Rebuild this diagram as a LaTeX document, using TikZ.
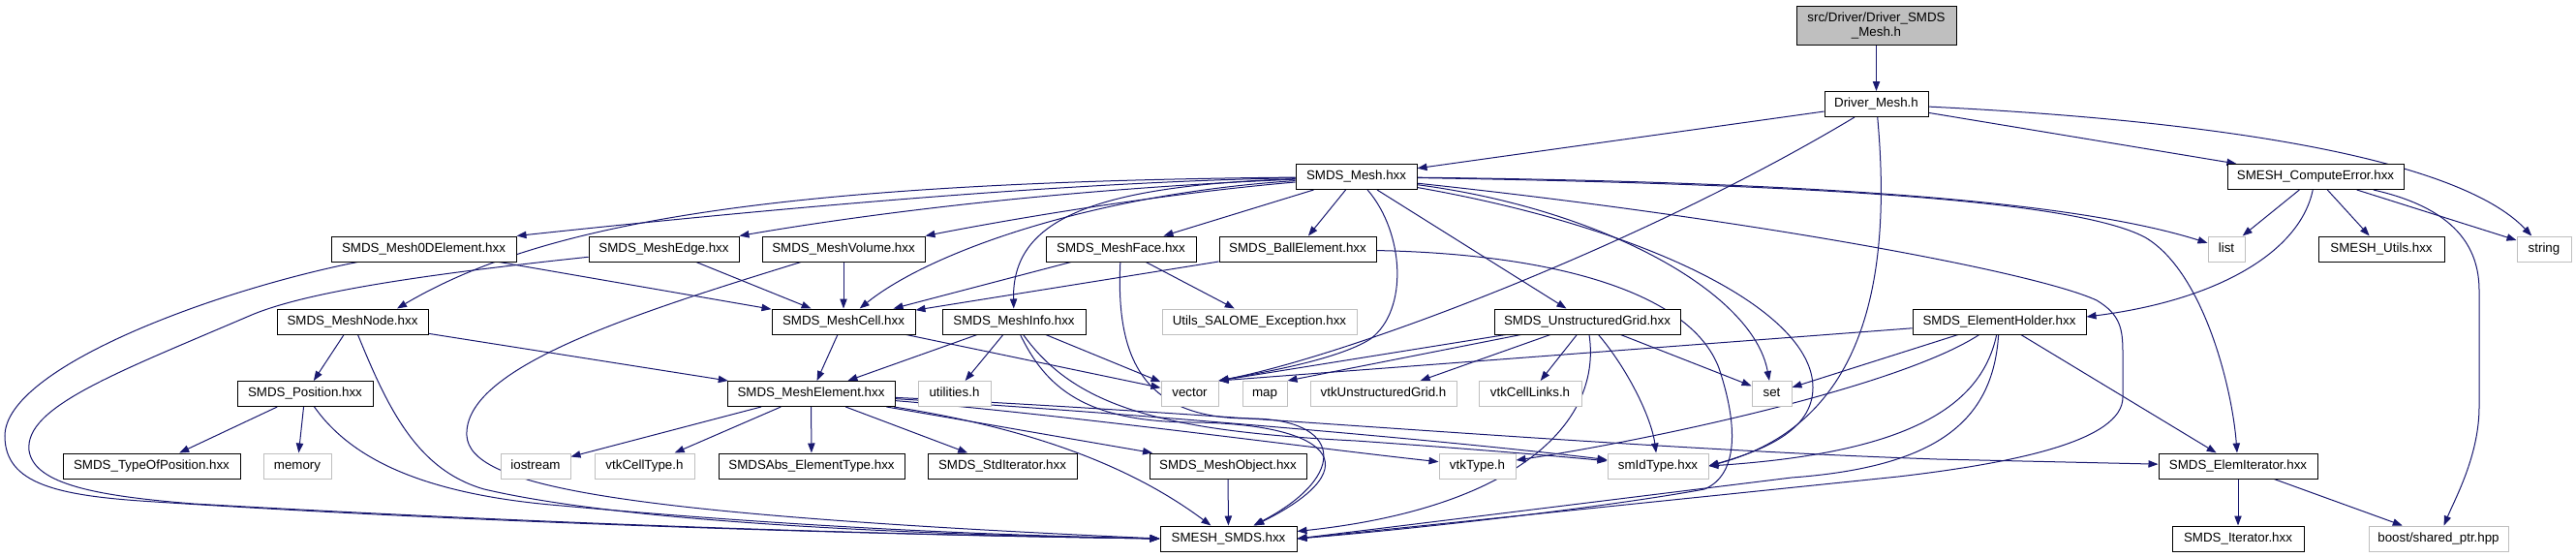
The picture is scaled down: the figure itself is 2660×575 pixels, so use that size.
\documentclass[tikz,border=0pt]{standalone}
\usepackage{fontspec}
\setmainfont{Liberation Sans}
\usetikzlibrary{arrows.meta}
\definecolor{edgec}{HTML}{191970}
\definecolor{extc}{HTML}{BFBFBF}
\definecolor{rootfill}{HTML}{BFBFBF}
\pgfdeclarelayer{bg}
\pgfsetlayers{bg,main}
\begin{document}
\begin{tikzpicture}[x=0.75pt,y=-0.75pt,
  font=\fontsize{10}{11.25}\selectfont,
  nb/.style={draw=black, fill=white, line width=0.75pt, inner sep=0pt, minimum height=19.5pt, minimum width=#1*0.75pt, text height=7.2pt, text depth=2.1pt},
  xb/.style={draw=extc, fill=white, line width=0.75pt, inner sep=0pt, minimum height=19.5pt, minimum width=#1*0.75pt, text height=7.2pt, text depth=2.1pt},
  rb/.style={draw=black, fill=rootfill, line width=0.75pt, inner sep=0pt, minimum height=30pt, minimum width=#1*0.75pt, align=center},
  edge/.style={draw=edgec, line width=0.75pt, -{Triangle[length=7.5pt,width=5.5pt]}}]
\useasboundingbox (0,0) rectangle (2660,575);
% nodes
\node[rb=165] (root) at (1937.5,26) {src/Driver/Driver\_SMDS\\\_Mesh.h};
\node[nb=107] (dmesh) at (1937.5,107.5) {Driver\_Mesh.h};
\node[nb=125] (smesh) at (1400.5,182.5) {SMDS\_Mesh.hxx};
\node[nb=182] (cerr) at (2391,182.5) {SMESH\_ComputeError.hxx};
\node[nb=191] (m0d) at (437.5,257) {SMDS\_Mesh0DElement.hxx};
\node[nb=155] (medge) at (685.5,257) {SMDS\_MeshEdge.hxx};
\node[nb=168] (mvol) at (871,257) {SMDS\_MeshVolume.hxx};
\node[nb=155] (mface) at (1157.5,257) {SMDS\_MeshFace.hxx};
\node[nb=162] (ball) at (1340,257) {SMDS\_BallElement.hxx};
\node[xb=38] (list) at (2299,257) {list};
\node[nb=130] (utils) at (2459,257) {SMESH\_Utils.hxx};
\node[xb=56] (string) at (2627,257) {string};
\node[nb=156] (mnode) at (364,332) {SMDS\_MeshNode.hxx};
\node[nb=148] (mcell) at (871,332) {SMDS\_MeshCell.hxx};
\node[nb=148] (minfo) at (1047,332) {SMDS\_MeshInfo.hxx};
\node[xb=201] (exc) at (1300.5,332) {Utils\_SALOME\_Exception.hxx};
\node[nb=192] (ugrid) at (1639,332) {SMDS\_UnstructuredGrid.hxx};
\node[nb=179] (holder) at (2064.5,332) {SMDS\_ElementHolder.hxx};
\node[nb=140] (pos) at (315,406.5) {SMDS\_Position.hxx};
\node[nb=173] (melem) at (837.5,406.5) {SMDS\_MeshElement.hxx};
\node[xb=75] (util) at (985.5,406.5) {utilities.h};
\node[xb=59] (vector) at (1228.5,406.5) {vector};
\node[xb=46] (map) at (1306,406.5) {map};
\node[xb=151] (vtkug) at (1428.5,406.5) {vtkUnstructuredGrid.h};
\node[xb=106] (vtkcl) at (1580,406.5) {vtkCellLinks.h};
\node[xb=41] (set) at (1829.5,406.5) {set};
\node[nb=183] (tpos) at (156.5,481) {SMDS\_TypeOfPosition.hxx};
\node[xb=70] (memory) at (307,481) {memory};
\node[xb=72] (iostream) at (553,481) {iostream};
\node[xb=103] (vtkct) at (665.5,481) {vtkCellType.h};
\node[nb=192] (eltype) at (838,481) {SMDSAbs\_ElementType.hxx};
\node[nb=154] (stdit) at (1035,481) {SMDS\_StdIterator.hxx};
\node[nb=162] (mobj) at (1268,481) {SMDS\_MeshObject.hxx};
\node[xb=79] (vtktype) at (1525.5,481) {vtkType.h};
\node[xb=104] (smid) at (1712,481) {smIdType.hxx};
\node[nb=164] (elit) at (2311,481) {SMDS\_ElemIterator.hxx};
\node[nb=141] (smds) at (1268.5,556) {SMESH\_SMDS.hxx};
\node[nb=136] (iter) at (2311,556) {SMDS\_Iterator.hxx};
\node[xb=144] (boost) at (2518,556) {boost/shared\_ptr.hpp};
\begin{pgfonlayer}{bg}
\fill[white] (0,0) rectangle (2660,575);
% root and Driver_Mesh
\draw[edge] (root) -- (dmesh);
\draw[edge] (dmesh) -- (smesh);
\draw[edge] (dmesh) -- (cerr);
\draw[edge] (dmesh) .. controls (2300,125) and (2540,165) .. (string);
\draw[edge] (dmesh) .. controls (1700,250) and (1400,365) .. (vector.north east);
\draw[edge] (dmesh) .. controls (1955,300) and (1920,440) .. (smid.east);
% SMDS_Mesh
\draw[edge] (smesh) .. controls (1100,188) and (800,215) .. (m0d.north east);
\draw[edge] (smesh) .. controls (800,188) and (560,230) .. ([xshift=34.5pt]mnode.north);
\draw[edge] (smesh) .. controls (1100,195) and (900,220) .. (medge.north east);
\draw[edge] (smesh) .. controls (1200,200) and (1050,225) .. (mvol.north east);
\draw[edge] (smesh) -- (mface);
\draw[edge] (smesh) -- (ball);
\draw[edge] (smesh) .. controls (1130,200) and (960,260) .. (mcell);
\draw[edge] (smesh) .. controls (1120,192) and (1045,230) .. (minfo);
\draw[edge] (smesh) -- (ugrid);
\draw[edge] (smesh) .. controls (1450,240) and (1455,320) .. (1415,350) .. controls (1380,372) and (1300,385) .. (vector.north east);
\draw[edge] (smesh) .. controls (1650,215) and (1810,300) .. (set);
\draw[edge] (smesh) .. controls (1700,235) and (1872,320) .. (1872,400) .. controls (1872,445) and (1820,465) .. (smid.east);
\draw[edge] (smesh) .. controls (1800,225) and (2100,280) .. (2165,310) .. controls (2190,325) and (2192,340) .. (2192,365) -- (2192,410) .. controls (2192,455) and (2080,478) .. (1960,492) -- (smds.east);
\draw[edge] (smesh) .. controls (1900,188) and (2150,210) .. (list);
\draw[edge] (smesh) .. controls (1850,190) and (2140,205) .. (2215,245) .. controls (2275,280) and (2305,400) .. (elit);
% SMESH_ComputeError
\draw[edge] (cerr) -- (list);
\draw[edge] (cerr) -- (utils);
\draw[edge] (cerr) -- (string);
\draw[edge] (cerr) .. controls (2375,260) and (2290,310) .. ([yshift=3.75pt]holder.east);
\draw[edge] (cerr) .. controls (2535,215) and (2560,255) .. (2560,300) -- (2560,420) .. controls (2560,470) and (2535,515) .. (boost);
% row 3
\draw[edge] (m0d) -- (mcell);
\draw[edge] (m0d) .. controls (220,300) and (5,380) .. (5,450) .. controls (5,500) and (60,512) .. (160,518) .. controls (500,540) and (900,552) .. (smds.west);
\draw[edge] (medge) -- (mcell);
\draw[edge] (medge) .. controls (450,282) and (320,300) .. (260,325) .. controls (120,385) and (25,420) .. (30,465) .. controls (35,500) and (100,512) .. (200,520) .. controls (550,540) and (900,552) .. (smds.west);
\draw[edge] (mvol) -- (mcell);
\draw[edge] (mvol) .. controls (650,325) and (478,380) .. (482,450) .. controls (486,500) and (620,530) .. (smds.west);
\draw[edge] (mface) -- (mcell);
\draw[edge] (mface) -- (exc);
\draw[edge] (mface) .. controls (1152,370) and (1180,432) .. (1290,432) .. controls (1385,432) and (1395,490) .. (smds);
\draw[edge] (ball) -- (mcell);
\draw[edge] (ball) .. controls (1600,262) and (1745,300) .. (1775,380) .. controls (1795,440) and (1795,490) .. (1760,505) .. controls (1650,525) and (1450,547) .. (smds.east);
% row 4
\draw[edge] (mnode) -- (pos);
\draw[edge] (mnode) -- (melem);
\draw[edge] (mnode) .. controls (400,420) and (430,485) .. (500,505) .. controls (650,540) and (950,552) .. (smds.west);
\draw[edge] (mcell) -- (melem);
\draw[edge] (mcell) -- (vector);
\draw[edge] (minfo) -- (melem);
\draw[edge] (minfo) -- (util);
\draw[edge] (minfo) -- (vector);
\draw[edge] (minfo) .. controls (1080,400) and (1120,435) .. (1230,436) .. controls (1370,437) and (1420,480) .. (smds);
\draw[edge] (minfo) .. controls (1110,420) and (1200,445) .. (1400,455) .. controls (1500,462) and (1600,470) .. (smid);
\draw[edge] (ugrid) -- (vector.north east);
\draw[edge] (ugrid) -- (map.north east);
\draw[edge] (ugrid) -- (vtkug);
\draw[edge] (ugrid) -- (vtkcl);
\draw[edge] (ugrid) -- (set);
\draw[edge] (ugrid) .. controls (1680,380) and (1705,430) .. (smid);
\draw[edge] (ugrid) .. controls (1655,440) and (1560,525) .. (smds);
\draw[edge] (holder) -- (vector.north east);
\draw[edge] (holder) -- (set);
\draw[edge] (holder) .. controls (1960,400) and (1700,455) .. (vtktype);
\draw[edge] (holder) .. controls (2045,425) and (1960,468) .. (smid.east);
\draw[edge] (holder) .. controls (2058,435) and (2000,482) .. (1850,493) -- (smds.east);
\draw[edge] (holder) -- (elit);
% row 5
\draw[edge] (pos) -- (tpos);
\draw[edge] (pos) -- (memory);
\draw[edge] (pos) .. controls (360,470) and (430,510) .. (580,522) .. controls (800,542) and (1000,552) .. (smds.west);
\draw[edge] (melem) -- (iostream);
\draw[edge] (melem) -- (vtkct);
\draw[edge] (melem) -- (eltype);
\draw[edge] (melem) -- (stdit);
\draw[edge] (melem) -- (mobj);
\draw[edge] (melem) .. controls (1050,440) and (1160,475) .. (smds);
\draw[edge] (melem) .. controls (1100,428) and (1350,462) .. (vtktype);
\draw[edge] (melem) .. controls (1150,425) and (1500,455) .. (smid);
\draw[edge] (melem) .. controls (1250,425) and (1650,462) .. (2000,474) -- (elit);
% row 6
\draw[edge] (mobj) -- (smds);
\draw[edge] (elit) -- (iter);
\draw[edge] (elit) -- (boost);
\end{pgfonlayer}
\end{tikzpicture}
\end{document}
